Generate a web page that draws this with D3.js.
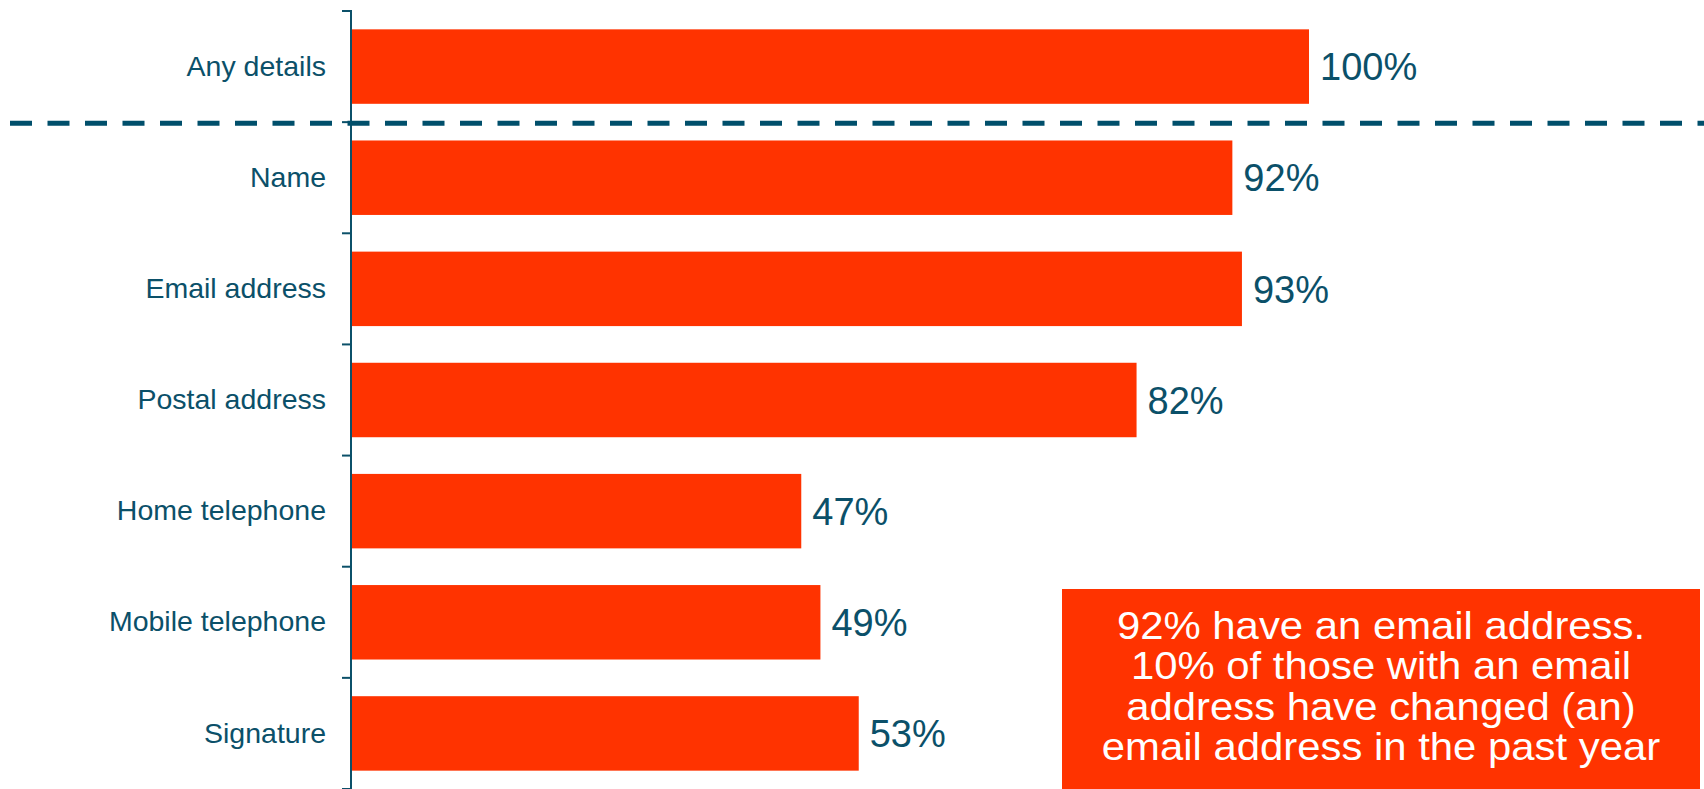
<!DOCTYPE html>
<html>
<head>
<meta charset="utf-8">
<script src="https://cdn.jsdelivr.net/npm/d3@7"></script>
<style>
  html, body { margin: 0; padding: 0; background: #ffffff; }
  svg { display: block; font-family: "Liberation Sans", Arial, sans-serif; }
</style>
</head>
<body>
<svg id="chart" width="1704" height="789"></svg>
<script>
// Share of records holding each kind of contact detail
const categories = ["Any details", "Name", "Email address", "Postal address",
                    "Home telephone", "Mobile telephone", "Signature"];
const values = [100, 92, 93, 82, 47, 49, 53];
const noteLines = [
  "92% have an email address.",
  "10% of those with an email",
  "address have changed (an)",
  "email address in the past year"
];

const W = 1704, H = 789;
const barColor = "#ff3300";
const ink = "#0b5069";

const svg = d3.select("#chart");

const x = d3.scaleLinear().domain([0, 100]).range([351, 1309]);
const y = d3.scaleBand().domain(categories).range([11, 789]).padding(0);
const step = y.step();
const barPad = step * 0.165;
const barH = step * 0.67;

// Bars
svg.append("g").selectAll("rect")
  .data(categories)
  .join("rect")
  .attr("x", x(0))
  .attr("y", d => y(d) + barPad)
  .attr("width", (d, i) => x(values[i]) - x(0))
  .attr("height", barH)
  .attr("fill", barColor);

// Value labels
svg.append("g").selectAll("text")
  .data(categories)
  .join("text")
  .attr("x", (d, i) => x(values[i]) + 11)
  .attr("y", d => y(d) + step / 2)
  .attr("dy", "0.36em")
  .attr("font-size", 38)
  .attr("fill", ink)
  .text((d, i) => values[i] + "%");

// Category axis: labels from d3.axisLeft, ticks at band boundaries
const axisG = svg.append("g")
  .attr("transform", `translate(${x(0)},0)`)
  .call(d3.axisLeft(y).tickSize(0).tickPadding(25));
axisG.select(".domain").remove();
axisG.selectAll("text")
  .attr("font-size", 28.5)
  .attr("font-family", "'Liberation Sans', Arial, sans-serif")
  .attr("fill", ink);

const bounds = categories.map(c => y(c)).concat([y.range()[1]]);
svg.append("line")
  .attr("x1", x(0)).attr("x2", x(0))
  .attr("y1", bounds[0] - 1).attr("y2", H)
  .attr("stroke", ink).attr("stroke-width", 2);
svg.append("g").selectAll("line")
  .data(bounds)
  .join("line")
  .attr("x1", x(0) - 9).attr("x2", x(0))
  .attr("y1", d => d).attr("y2", d => d)
  .attr("stroke", ink).attr("stroke-width", 2);

// Dashed divider under the overall total
const divY = y(categories[1]) + 1;
svg.append("line")
  .attr("x1", 10).attr("x2", W)
  .attr("y1", divY).attr("y2", divY)
  .attr("stroke", "#004f6b")
  .attr("stroke-width", 5)
  .attr("stroke-dasharray", "22,15.5");

// Callout box
const box = { x0: 1062, y0: 589, x1: 1700, y1: 789 };
svg.append("rect")
  .attr("x", box.x0).attr("y", box.y0)
  .attr("width", box.x1 - box.x0).attr("height", box.y1 - box.y0)
  .attr("fill", barColor);
svg.append("g")
  .attr("transform", `translate(${(box.x0 + box.x1) / 2},0) scale(1.06,1)`)
  .selectAll("text")
  .data(noteLines)
  .join("text")
  .attr("x", 0)
  .attr("y", (d, i) => 639 + i * 40.3)
  .attr("text-anchor", "middle")
  .attr("font-size", 39.5)
  .attr("fill", "#ffffff")
  .text(d => d);
</script>
</body>
</html>
